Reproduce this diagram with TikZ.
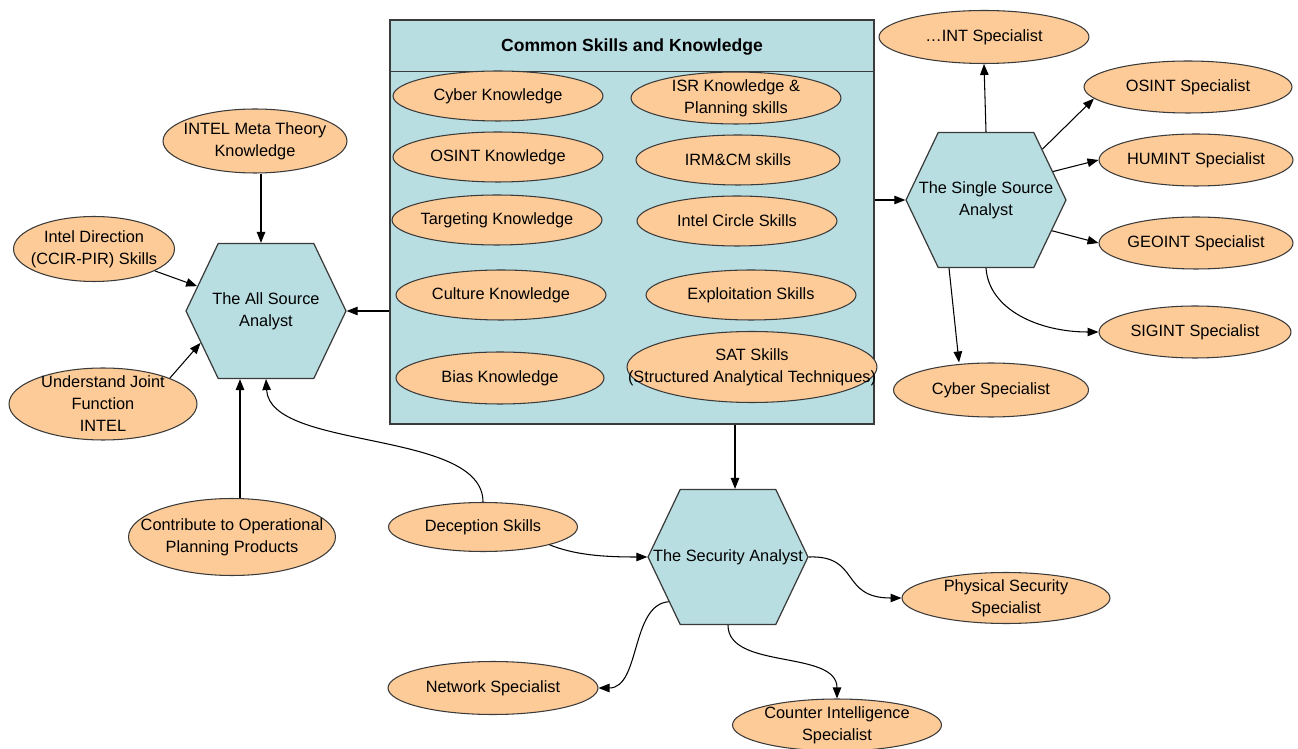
\documentclass[tikz,border=0pt]{standalone}
\usepackage{fontspec}
\setmainfont{Liberation Sans}
\usepackage{tikz}
\usetikzlibrary{arrows.meta, shapes.geometric, shapes.symbols}
\definecolor{peach}{HTML}{FDCB98}
\definecolor{paleteal}{HTML}{B8DEE2}
\definecolor{edgegray}{HTML}{3A3A3A}

\begin{document}
\begin{tikzpicture}[
    x=0.02cm, y=-0.02cm,
    % Styles
    commonbox/.style={rectangle, draw=edgegray, fill=paleteal, line width=0.7pt, minimum width=9.68cm, minimum height=8.08cm, inner sep=0pt},
    titletext/.style={font=\fontsize{10}{12}\selectfont\bfseries, inner sep=1pt},
    skill/.style={ellipse, draw=edgegray, fill=peach, line width=0.6pt, inner xsep=-30pt, inner ysep=-16pt, align=center, font=\fontsize{9.3}{12.5}\selectfont, minimum width=4.2cm, minimum height=1cm},
    analyst/.style={signal, signal to=west and east, signal pointer angle=129, draw=edgegray, fill=paleteal, line width=0.7pt, inner xsep=-40pt, inner ysep=-16pt, align=center, font=\fontsize{9.3}{12.5}\selectfont, minimum width=3.2cm, minimum height=2.7cm},
    arrow/.style={-{Triangle[length=0.22cm, width=0.17cm]}, line width=0.6pt, draw=black}
]
\useasboundingbox (0,0) rectangle (1298,749);

% 1. COMMON SKILLS BOX
\node[commonbox] (common) at (632,222) {};
\draw[draw=edgegray, line width=0.7pt] ([yshift=-1.04cm]common.north west) -- ([yshift=-1.04cm]common.north east);
\node[titletext] (title) at (632,47) {Common Skills and Knowledge};

\node[skill] (cyberk) at (498,96) {Cyber Knowledge};
\node[skill, minimum height=1.04cm] (isrk) at (736,98) {ISR Knowledge \&\\Planning skills};
\node[skill] (osintk) at (498,157) {OSINT Knowledge};
\node[skill, minimum width=4.08cm] (irmcm) at (738,160) {IRM\&CM skills};
\node[skill] (targetk) at (497,220) {Targeting Knowledge};
\node[skill, minimum width=4cm] (intelcircle) at (737,221) {Intel Circle Skills};
\node[skill] (culturek) at (501,295) {Culture Knowledge};
\node[skill] (exploit) at (751,295) {Exploitation Skills};
\node[skill, minimum width=4.16cm, minimum height=1.04cm] (biask) at (500,378) {Bias Knowledge};
\node[skill, minimum width=5cm, minimum height=1.42cm] (satskills) at (752,367) {SAT Skills\\(Structured Analytical Techniques)};

% 2. ANALYSTS
\node[analyst] (allsrc) at (266,311) {The All Source\\Analyst};
\node[analyst] (single) at (986,200) {The Single Source\\Analyst};
\node[analyst] (security) at (728,557) {The Security Analyst};

% 3. ALL SOURCE INPUTS
\node[skill, minimum width=3.68cm, minimum height=1.28cm] (metatheory) at (255,141) {INTEL Meta Theory\\Knowledge};
\node[skill, minimum width=3.22cm, minimum height=1.3cm] (direction) at (94,249) {Intel Direction\\(CCIR-PIR) Skills};
\node[skill, minimum width=3.76cm, minimum height=1.44cm] (jointfn) at (103,404) {Understand Joint\\Function\\INTEL};
\node[skill, minimum width=4.14cm, minimum height=1.54cm] (contrib) at (232,537) {Contribute to Operational\\Planning Products};
\node[skill, minimum width=3.78cm, minimum height=0.98cm] (deception) at (483,527) {Deception Skills};

% 4. SINGLE SOURCE SPECIALISTS
\node[skill, minimum height=1.06cm] (intspec) at (984,37) {\dots INT Specialist};
\node[skill, minimum width=4.16cm, minimum height=1.04cm] (osintspec) at (1188,87) {OSINT Specialist};
\node[skill, minimum width=3.88cm, minimum height=1.04cm] (humint) at (1196,160) {HUMINT Specialist};
\node[skill, minimum width=3.88cm, minimum height=1.04cm] (geoint) at (1196,243) {GEOINT Specialist};
\node[skill, minimum width=3.84cm, minimum height=1.04cm] (sigint) at (1195,332) {SIGINT Specialist};
\node[skill, minimum width=3.9cm, minimum height=1.08cm] (cyberspec) at (991,390) {Cyber Specialist};

% 5. SECURITY SPECIALISTS
\node[skill, minimum width=4.16cm, minimum height=1.02cm] (physical) at (1006,598) {Physical Security\\Specialist};
\node[skill, minimum height=1.06cm] (network) at (493,688) {Network Specialist};
\node[skill, minimum width=4.18cm, minimum height=1.04cm] (counter) at (837,725) {Counter Intelligence\\Specialist};

% CONNECTING ARROWS
\draw[arrow] (common.west |- allsrc.east) -- (allsrc.east);
\draw[arrow] (common.east |- single.west) -- (single.west);
\draw[arrow] ([xshift=0.14cm]common.south -| security.north) -- ([xshift=0.14cm]security.north);

\draw[arrow] ([xshift=0.12cm]metatheory.south) -- ([xshift=0.12cm]metatheory.south |- allsrc.north);
\draw[arrow] (direction) -- (allsrc);
\draw[arrow] (jointfn.north east) -- (allsrc.206);
\draw[arrow] ([xshift=0.16cm]contrib.north) -- ([xshift=0.16cm]contrib.north |- allsrc.south);
\draw[arrow] (deception.north) .. controls +(0,-73) and +(4,72) .. (allsrc.south);
\draw[arrow] (deception.-15) .. controls +(25,10) and +(-45,0) .. (security.west);

\draw[arrow] (single.north) -- (intspec.south);
\draw[arrow] (single.42) -- (osintspec.187);
\draw[arrow] (single.23) -- (humint.west);
\draw[arrow] (single.-25) -- (geoint.west);
\draw[arrow] (single.south) .. controls +(3,42) and +(-59,0) .. (sigint.west);
\draw[arrow] ([xshift=-0.74cm]single.south) -- ([xshift=-0.64cm]cyberspec.north);

\draw[arrow] (security.east) .. controls +(52,-2) and +(-62,0) .. (physical.west);
\draw[arrow] (security.south) .. controls +(0,45) and +(0,-49) .. (counter.north);
\draw[arrow] (security.217) .. controls +(-38,3) and +(42,0) .. (network.east);

\end{tikzpicture}
\end{document}
